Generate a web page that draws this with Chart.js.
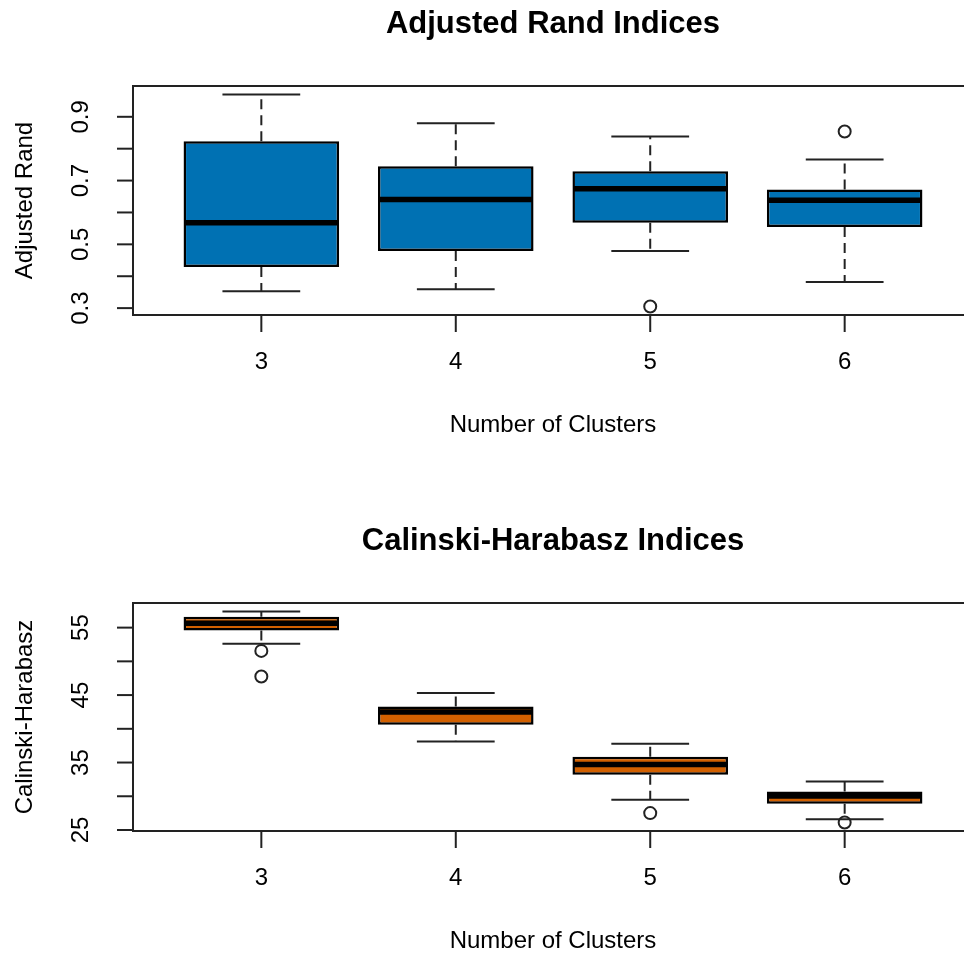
<!DOCTYPE html>
<html lang="en">
<head>
<meta charset="utf-8"/>
<title>Cluster indices</title>
<script src="https://cdn.jsdelivr.net/npm/chart.js"></script>
<style>
  html, body { margin: 0; padding: 0; background: #fff; overflow: hidden; }
  canvas { position: absolute; left: 0; }
  #rand-chart { top: 0; }
  #ch-chart { top: 478px; }
</style>
</head>
<body>
<canvas id="rand-chart" width="1000" height="478"></canvas>
<canvas id="ch-chart" width="1000" height="479"></canvas>
<script>
  const clusters = ['3', '4', '5', '6'];

  // Adjusted Rand: whisker ends, hinges, medians
  const randLow = [0.353, 0.359, 0.479, 0.382];
  const randQ1 = [0.429, 0.479, 0.568, 0.554];
  const randMedian = [0.568, 0.641, 0.674, 0.638];
  const randQ3 = [0.823, 0.745, 0.729, 0.672];
  const randHigh = [0.970, 0.880, 0.838, 0.766];
  const randOutGroup = ['5', '6'];
  const randOutValue = [0.305, 0.854];
  const randTicks = [0.3, 0.4, 0.5, 0.6, 0.7, 0.8, 0.9];
  const randTickLabels = ['0.3', '', '0.5', '', '0.7', '', '0.9'];

  // Calinski-Harabasz
  const chLow = [52.6, 38.1, 29.5, 26.6];
  const chQ1 = [54.56, 40.6, 33.2, 28.9];
  const chMedian = [55.65, 42.5, 34.7, 30.05];
  const chQ3 = [56.6, 43.3, 35.85, 30.7];
  const chHigh = [57.4, 45.3, 37.8, 32.2];
  const chOutGroup = ['3', '3', '5', '6'];
  const chOutValue = [51.55, 47.75, 27.5, 26.1];
  const chTicks = [25, 30, 35, 40, 45, 50, 55];
  const chTickLabels = ['25', '', '35', '', '45', '', '55'];

  const FONT = '"Liberation Sans", Arial, sans-serif';
  const INK = '#000';

  function rBoxPlugin(cfg) {
    return {
      id: 'rbox',
      afterDatasetsDraw(chart) {
        const ctx = chart.ctx;
        const y = chart.scales.y;
        const bars = chart.getDatasetMeta(0).data;
        ctx.save();
        bars.forEach((bar, i) => {
          const half = bar.width / 2;
          const cap = bar.width / 4;
          const yLow = y.getPixelForValue(cfg.low[i]);
          const yHigh = y.getPixelForValue(cfg.high[i]);
          const yQ1 = y.getPixelForValue(cfg.q1[i]);
          const yQ3 = y.getPixelForValue(cfg.q3[i]);
          const yMed = y.getPixelForValue(cfg.median[i]);

          ctx.strokeStyle = '#222';
          ctx.lineWidth = 2;
          ctx.setLineDash([10, 6]);
          ctx.beginPath();
          ctx.moveTo(bar.x, yQ3); ctx.lineTo(bar.x, yHigh);
          ctx.moveTo(bar.x, yQ1); ctx.lineTo(bar.x, yLow);
          ctx.stroke();
          ctx.setLineDash([]);
          ctx.beginPath();
          ctx.moveTo(bar.x - cap, yHigh); ctx.lineTo(bar.x + cap, yHigh);
          ctx.moveTo(bar.x - cap, yLow); ctx.lineTo(bar.x + cap, yLow);
          ctx.stroke();

          ctx.strokeStyle = '#000';
          ctx.lineWidth = 5.5;
          ctx.beginPath();
          ctx.moveTo(bar.x - half + 1, yMed); ctx.lineTo(bar.x + half - 1, yMed);
          ctx.stroke();
        });
        ctx.restore();
      },
      afterDraw(chart) {
        const ctx = chart.ctx;
        const a = chart.chartArea;
        const x = chart.scales.x, y = chart.scales.y;
        ctx.save();
        ctx.strokeStyle = '#222';
        ctx.lineWidth = 2;
        ctx.strokeRect(a.left, a.top, a.right - a.left, a.bottom - a.top);

        ctx.fillStyle = INK;
        ctx.font = '24px ' + FONT;
        // y axis ticks, labels parallel to the axis
        cfg.ticks.forEach((v, i) => {
          const py = y.getPixelForValue(v);
          ctx.beginPath();
          ctx.moveTo(a.left - 16, py); ctx.lineTo(a.left, py);
          ctx.stroke();
          if (cfg.tickLabels[i]) {
            ctx.save();
            ctx.translate(a.left - 52, py);
            ctx.rotate(-Math.PI / 2);
            ctx.textAlign = 'center';
            ctx.textBaseline = 'middle';
            ctx.fillText(cfg.tickLabels[i], 0, 0);
            ctx.restore();
          }
        });
        // x axis ticks
        clusters.forEach((c, i) => {
          const px = x.getPixelForValue(i);
          ctx.beginPath();
          ctx.moveTo(px, a.bottom); ctx.lineTo(px, a.bottom + 17);
          ctx.stroke();
          ctx.textAlign = 'center';
          ctx.textBaseline = 'middle';
          ctx.fillText(c, px, a.bottom + 47);
        });

        const cx = (a.left + a.right) / 2;
        ctx.fillText('Number of Clusters', cx, a.bottom + 110);

        ctx.save();
        ctx.translate(a.left - 101, (a.top + a.bottom) / 2);
        ctx.rotate(-Math.PI / 2);
        ctx.textAlign = 'center';
        ctx.textBaseline = 'alphabetic';
        ctx.fillText(cfg.yTitle, 0, 0);
        ctx.restore();

        ctx.font = 'bold 31px ' + FONT;
        ctx.fillText(cfg.title, cx, a.top - 62);
        ctx.restore();
      }
    };
  }

  function makeBoxChart(id, cfg) {
    const ctx = document.getElementById(id).getContext('2d');
    return new Chart(ctx, {
      type: 'bar',
      data: {
        datasets: [{
          data: clusters.map((c, i) => ({ x: i, y: [cfg.q1[i], cfg.q3[i]] })),
          backgroundColor: cfg.color,
          borderColor: '#000',
          borderWidth: 2.5,
          borderSkipped: false,
          categoryPercentage: 0.8,
          barPercentage: 1
        }, {
          type: 'scatter',
          data: cfg.outGroup.map((g, i) => ({ x: clusters.indexOf(g), y: cfg.outValue[i] })),
          pointStyle: 'circle',
          pointRadius: 6,
          pointBorderWidth: 2,
          pointBorderColor: '#222',
          pointBackgroundColor: 'rgba(0,0,0,0)'
        }]
      },
      options: {
        responsive: false,
        devicePixelRatio: 1,
        animation: false,
        layout: { padding: cfg.padding },
        plugins: { legend: { display: false }, tooltip: { enabled: false }, title: { display: false } },
        scales: {
          x: {
            type: 'linear', display: false, offset: false,
            min: -0.66, max: 3.66,
            ticks: { stepSize: 1, includeBounds: false }
          },
          y: { type: 'linear', display: false, min: cfg.yMin, max: cfg.yMax }
        }
      },
      plugins: [rBoxPlugin(cfg)]
    });
  }

  makeBoxChart('rand-chart', {
    title: 'Adjusted Rand Indices', yTitle: 'Adjusted Rand', color: '#0071b3',
    low: randLow, q1: randQ1, median: randMedian, q3: randQ3, high: randHigh,
    outGroup: randOutGroup, outValue: randOutValue,
    ticks: randTicks, tickLabels: randTickLabels,
    yMin: 0.2784, yMax: 0.9966,
    padding: { left: 133, top: 86, right: 27, bottom: 163 }
  });

  makeBoxChart('ch-chart', {
    title: 'Calinski-Harabasz Indices', yTitle: 'Calinski-Harabasz', color: '#d26000',
    low: chLow, q1: chQ1, median: chMedian, q3: chQ3, high: chHigh,
    outGroup: chOutGroup, outValue: chOutValue,
    ticks: chTicks, tickLabels: chTickLabels,
    yMin: 24.85, yMax: 58.65,
    padding: { left: 133, top: 125, right: 27, bottom: 126 }
  });
</script>
</body>
</html>
